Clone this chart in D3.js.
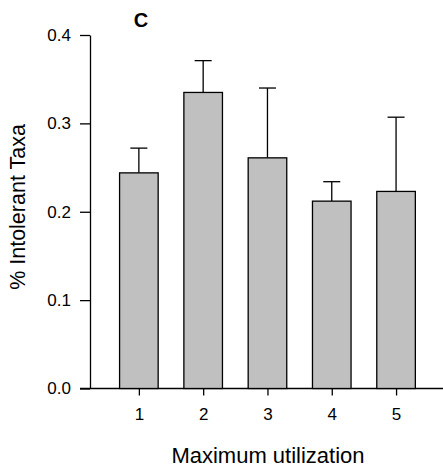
<!DOCTYPE html>
<meta charset="utf-8">
<script src="https://d3js.org/d3.v7.min.js"></script>
<style>
  body { margin: 0; background: #fff; }
  text { font-family: "Liberation Sans", Arial, sans-serif; fill: #000; }
</style>
<body>
<div id="my_dataviz"></div>
<script>
// data
var categories = [1, 2, 3, 4, 5];
var means = [0.244, 0.335, 0.261, 0.212, 0.223];
var upper = [0.272, 0.371, 0.340, 0.234, 0.307];
var yTicks = [0.0, 0.1, 0.2, 0.3, 0.4];

var width = 443, height = 468;

var svg = d3.select("#my_dataviz")
  .append("svg")
    .attr("width", width)
    .attr("height", height);

var x = d3.scaleLinear().domain([0.24, 5.73]).range([90, 443]);
var y = d3.scaleLinear().domain([0, 0.4]).range([388.5, 35]);
var barW = x(1.3) - x(0.7);

// Y axis
svg.append("g")
  .attr("transform", "translate(90,0)")
  .call(d3.axisLeft(y).tickValues(yTicks).tickFormat(d3.format(".1f")).tickSize(10).tickSizeOuter(0))
  .call(function(g) {
    g.attr("font-size", 17).attr("font-family", "Liberation Sans, Arial, sans-serif");
    g.select(".domain").attr("stroke", "#000").attr("stroke-width", 1.3);
    g.selectAll(".tick line").attr("stroke", "#000").attr("stroke-width", 1.3);
    g.selectAll(".tick text").attr("x", -19);
  });

// X axis
svg.append("g")
  .attr("transform", "translate(0,388.5)")
  .call(d3.axisBottom(x).tickValues(categories).tickFormat(d3.format("d")).tickSize(7).tickSizeOuter(0))
  .call(function(g) {
    g.attr("font-size", 17).attr("font-family", "Liberation Sans, Arial, sans-serif");
    g.select(".domain").attr("d", "M80,0H443").attr("stroke", "#000").attr("stroke-width", 1.3);
    g.selectAll(".tick line").attr("stroke", "#000").attr("stroke-width", 1.3);
    g.selectAll(".tick text").attr("y", 19);
  });

// error bars (upper only)
var errs = svg.append("g");
categories.forEach(function(c, i) {
  errs.append("line")
    .attr("x1", x(c)).attr("x2", x(c))
    .attr("y1", y(means[i])).attr("y2", y(upper[i]))
    .attr("stroke", "#000").attr("stroke-width", 1.3);
  errs.append("line")
    .attr("x1", x(c) - 8.5).attr("x2", x(c) + 8.5)
    .attr("y1", y(upper[i])).attr("y2", y(upper[i]))
    .attr("stroke", "#000").attr("stroke-width", 1.3);
});

// bars
svg.append("g").selectAll("rect")
  .data(categories)
  .enter().append("rect")
    .attr("x", function(d) { return x(d) - barW / 2; })
    .attr("width", barW)
    .attr("y", function(d, i) { return y(means[i]); })
    .attr("height", function(d, i) { return y(0) - y(means[i]); })
    .attr("fill", "#c0c0c0")
    .attr("stroke", "#000")
    .attr("stroke-width", 1.3);

// panel letter
svg.append("text")
  .attr("x", 141).attr("y", 27)
  .attr("text-anchor", "middle")
  .attr("font-size", 20).attr("font-weight", "bold")
  .text("C");

// axis titles
svg.append("text")
  .attr("x", 268).attr("y", 463)
  .attr("text-anchor", "middle")
  .attr("font-size", 22)
  .text("Maximum utilization");

svg.append("text")
  .attr("transform", "translate(25,207) rotate(-90)")
  .attr("text-anchor", "middle")
  .attr("font-size", 21.5)
  .text("% Intolerant Taxa");
</script>
</body>
